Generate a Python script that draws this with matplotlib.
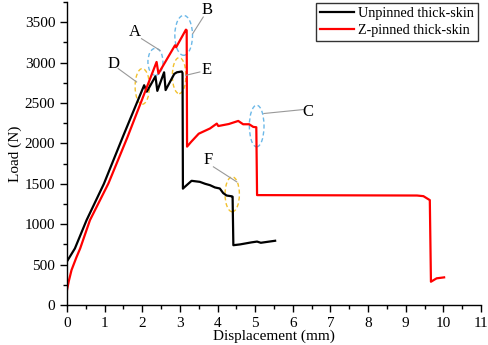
import matplotlib
matplotlib.use('Agg')
import matplotlib.pyplot as plt
from matplotlib.patches import Ellipse
from matplotlib.ticker import MultipleLocator

plt.rcParams['font.family'] = ['Liberation Serif', 'DejaVu Serif']
plt.rcParams['font.size'] = 11

# unpinned thick-skin (black)
black_x = [0, 0.21, 0.52, 0.98, 1.5, 2.05, 2.12, 2.35, 2.40, 2.58, 2.62, 2.85, 2.92, 3.05, 3.07,
           3.08, 3.10, 3.31, 3.53, 3.67, 3.80, 3.93, 4.06, 4.15, 4.24, 4.38, 4.40,
           4.42, 4.6, 4.9, 5.05, 5.15, 5.3, 5.53]
black_y = [540, 700, 1050, 1500, 2100, 2720, 2640, 2830, 2650, 2880, 2660, 2860, 2880, 2890, 2870,
           1440, 1450, 1537, 1524, 1500, 1483, 1455, 1442, 1385, 1355, 1345, 1340,
           740, 750, 775, 785, 770, 780, 795]

# z-pinned thick-skin (red)
red_x = [0, 0.05, 0.12, 0.25, 0.35, 0.61, 1.10, 1.6, 2.0, 2.38, 2.43, 2.87, 2.90, 3.16, 3.18,
         3.19, 3.3, 3.5, 3.8, 3.98, 4.02, 4.3, 4.55, 4.68, 4.84, 4.95, 5.03,
         5.05, 5.1, 9.3, 9.47, 9.64, 9.67, 9.82, 10.02]
red_y = [185, 300, 432, 590, 700, 1050, 1504, 2070, 2550, 3008, 2864, 3214, 3190, 3408, 3400,
         1960, 2020, 2120, 2185, 2245, 2215, 2240, 2278, 2237, 2237, 2204, 2200,
         1360, 1360, 1355, 1347, 1298, 288, 330, 342]

# markers: label, ellipse centre/size, label pos, leader line
marks = ['A', 'B', 'C', 'D', 'E', 'F']
mark_col = ['#6bb8e8', '#6bb8e8', '#6bb8e8', '#f2c12e', '#f2c12e', '#f2c12e']
ell_xy = [(2.35, 3010), (3.10, 3337), (5.04, 2215), (2.0, 2705), (2.98, 2839), (4.39, 1370)]
ell_wh = [(0.40, 334), (0.47, 494), (0.39, 515), (0.38, 441), (0.36, 445), (0.38, 432)]
lab_xy = [(1.81, 3375), (3.73, 3655), (6.41, 2390), (1.23, 2988), (3.71, 2905), (3.75, 1792)]
lead = [((1.98, 3296), (2.47, 3152)), ((3.62, 3564), (3.34, 3358)), ((6.28, 2419), (5.23, 2370)),
        ((1.36, 2926), (1.85, 2760)), ((3.53, 2884), (3.16, 2843)), ((3.89, 1710), (4.51, 1524))]

fig = plt.figure(figsize=(4.89, 3.45), dpi=100)
ax = fig.add_axes([67/489, 40/345, 414/489, 303/345])

ax.plot(black_x, black_y, color='black', lw=1.6, label='Unpinned thick-skin')
ax.plot(red_x, red_y, color='red', lw=1.6, label='Z-pinned thick-skin')

for m, c, xy, wh, lxy, ln in zip(marks, mark_col, ell_xy, ell_wh, lab_xy, lead):
    ax.add_patch(Ellipse(xy, wh[0], wh[1], fill=False, ec=c, ls=(0, (3, 2)), lw=1.0))
    ax.plot([ln[0][0], ln[1][0]], [ln[0][1], ln[1][1]], color='#999999', lw=0.8)
    ax.text(lxy[0], lxy[1], m, ha='center', va='center', fontsize=12)

ax.set_xlim(0, 11)
ax.set_ylim(0, 3750)
ax.xaxis.set_major_locator(MultipleLocator(1))
ax.xaxis.set_minor_locator(MultipleLocator(0.5))
ax.yaxis.set_major_locator(MultipleLocator(500))
ax.yaxis.set_minor_locator(MultipleLocator(250))
ax.set_yticks(range(0, 3501, 500))
ax.tick_params(which='major', direction='out', length=5, width=1)
ax.tick_params(which='minor', direction='out', length=3, width=1)
ax.spines['top'].set_visible(False)
ax.spines['right'].set_visible(False)
ax.spines['left'].set_linewidth(1)
ax.spines['bottom'].set_linewidth(1)

ax.set_xlabel('Displacement (mm)', labelpad=0)
ax.set_ylabel('Load (N)', labelpad=2)

leg = ax.legend(loc='upper right', bbox_to_anchor=(0.995, 1.0), fancybox=False, framealpha=1,
                edgecolor='#333333', fontsize=10.2, borderpad=0.25, handlelength=2.4,
                handletextpad=0.3, labelspacing=0.3, borderaxespad=0.1)
leg.get_frame().set_linewidth(1)

fig.savefig('out.png', dpi=100)
